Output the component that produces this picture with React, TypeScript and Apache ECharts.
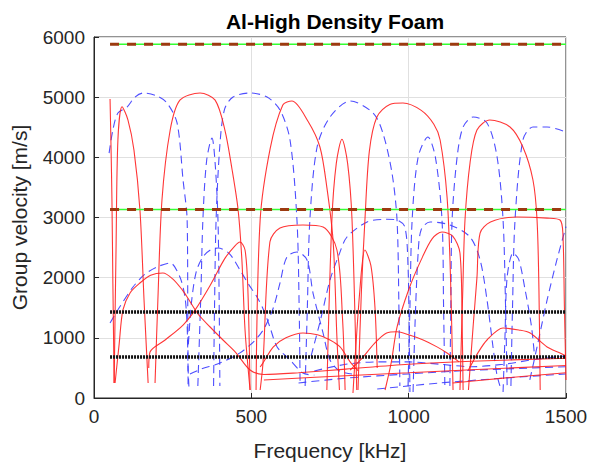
import React, { useEffect, useRef } from "react";
import * as echarts from "echarts";

const title = "Al-High Density Foam";
const xName = "Frequency [kHz]";
const yName = "Group velocity [m/s]";
const xTicks = [0, 500, 1000, 1500];
const yTicks = [0, 1000, 2000, 3000, 4000, 5000, 6000];

// bulk wave speeds (horizontal reference lines)
const bulkGreen = [5880, 3135];
const bulkBlack = [1430, 680];
const bulkRange = [51, 1500];

// Red solid (symmetric) modes: [frequency kHz, group velocity m/s]
const red1 = [[51, 4970], [54, 4200], [57, 3300], [60, 1900], [64, 250]];
const red2 = [[64, 250], [70, 2460], [76, 4290], [89, 4840], [108, 4620], [127, 4120], [146, 3125], [159, 1630], [172, 250]];
const red3 = [[194, 250], [203, 1630], [216, 3290], [242, 4450], [273, 4950], [337, 5069], [385, 4950], [416, 4454], [439, 3789], [458, 3125], [470, 2294], [480, 1130], [496, 133]];
const red4 = [[174, 500], [178, 765], [226, 964], [283, 1213], [321, 1460], [369, 1870], [416, 2320], [448, 2530], [464, 2593], [480, 2460], [489, 1800], [496, 133]];
const red5 = [[67, 250], [80, 900], [92, 1463], [115, 1750], [146, 1911], [180, 2040], [219, 2078], [250, 1980], [280, 1800], [296, 1679], [330, 1400], [369, 1180], [410, 964], [450, 760], [496, 465], [540, 390], [650, 420], [800, 480], [1000, 560], [1200, 610], [1500, 660]];
const red6 = [[515, 133], [528, 2960], [560, 4150], [600, 4870], [629, 4936], [680, 4600], [718, 4172], [740, 3500], [760, 2600], [772, 1000], [780, 133]];
const red7 = [[528, 133], [537, 582], [559, 2593], [591, 2825], [664, 2875], [728, 2842], [772, 2460], [790, 1300], [798, 133]];
const red8 = [[740, 133], [756, 2958], [770, 3900], [788, 4300], [806, 3900], [820, 2958], [835, 133]];
const red9 = [[823, 83], [845, 1800], [861, 2460], [880, 2200], [893, 1500], [900, 500]];
const red10 = [[839, 133], [850, 1800], [861, 2958], [875, 4100], [899, 4670], [940, 4880], [982, 4903], [1040, 4780], [1080, 4550], [1100, 4288], [1122, 3341], [1133, 2000], [1141, 133]];
const red11 = [[1163, 133], [1172, 1800], [1179, 2958], [1195, 3906], [1217, 4454], [1258, 4620], [1322, 4504], [1363, 4172], [1395, 3623], [1408, 2958], [1414, 1800], [1418, 133]];
const red12 = [[925, 133], [945, 600], [963, 1180], [1000, 1800], [1040, 2300], [1075, 2650], [1106, 2759], [1140, 2690], [1163, 2410], [1170, 1200], [1173, 133]];
const red13 = [[1190, 133], [1205, 1200], [1217, 2000], [1227, 2742], [1260, 2925], [1344, 3008], [1440, 2990], [1481, 2958], [1490, 2742], [1495, 1500], [1500, 300]];
const red14 = [[528, 515], [537, 582], [570, 850], [610, 1000], [664, 1080], [710, 1050], [750, 964], [782, 848], [814, 600], [840, 450]];
const red15 = [[814, 465], [850, 650], [890, 900], [930, 1080], [963, 1100], [1000, 1050], [1046, 964], [1090, 850], [1122, 748], [1160, 600]];
const red16 = [[1190, 465], [1220, 750], [1249, 964], [1300, 1163], [1350, 1130], [1386, 1080], [1440, 848], [1481, 748], [1500, 700]];
const red17 = [[540, 300], [800, 370], [1000, 420], [1200, 470], [1500, 540]];
const red18 = [[1140, 250], [1300, 330], [1500, 420]];

// Blue dashed (antisymmetric) modes
const blue1 = [[48, 4070], [60, 4454], [76, 4737], [105, 4836], [130, 5000], [156, 5069], [200, 5020], [232, 4903], [264, 4571], [283, 3623], [296, 2958], [298, 1500], [299, 183]];
const blue2 = [[380, 200], [383, 1500], [388, 2958], [400, 4200], [415, 4800], [442, 5003], [496, 5069], [550, 5003], [591, 4787], [623, 4288], [645, 2958], [652, 1500], [655, 200]];
const blue3 = [[330, 200], [340, 1800], [346, 2958], [358, 3950], [375, 4321], [385, 3900], [394, 2958], [398, 1500], [400, 200]];
const blue4 = [[671, 200], [678, 1500], [686, 2958], [709, 4172], [750, 4670], [814, 4936], [887, 4737], [918, 4404], [947, 3740], [963, 2958], [969, 1500], [972, 200]];
const blue5 = [[998, 200], [1004, 1500], [1011, 2958], [1030, 4000], [1061, 4338], [1085, 4000], [1106, 2958], [1111, 1500], [1115, 200]];
const blue6 = [[1131, 200], [1134, 1500], [1138, 2958], [1154, 4005], [1173, 4504], [1205, 4670], [1249, 4571], [1281, 4005], [1300, 2958], [1308, 1500], [1313, 200]];
const blue7 = [[1325, 200], [1330, 1500], [1338, 2958], [1363, 4288], [1395, 4504], [1440, 4504], [1500, 4420]];
const blue8 = [[51, 1247], [80, 1500], [124, 1845], [160, 2050], [200, 2177], [242, 2244], [273, 2011], [289, 1679], [296, 1200], [299, 500], [302, 150]];
const blue9 = [[300, 900], [310, 1600], [325, 2100], [346, 2343], [370, 2460], [394, 2493], [430, 2400], [464, 2127], [490, 1900], [518, 1679], [540, 1450], [559, 1180], [582, 848], [623, 632], [664, 415], [700, 380]];
const blue10 = [[305, 400], [340, 480], [400, 580], [464, 750], [510, 950], [540, 1150], [570, 1500], [591, 1911], [613, 2343], [645, 2427], [677, 2294], [696, 1745], [728, 1080], [750, 632], [780, 450], [820, 400]];
const blue11 = [[690, 700], [720, 1300], [750, 1961], [780, 2400], [804, 2676], [868, 2925], [930, 2970], [963, 2958], [988, 2842], [998, 2177], [1002, 1000], [1004, 100]];
const blue12 = [[1014, 100], [1020, 1200], [1030, 2400], [1040, 2800], [1068, 2925], [1131, 2875], [1195, 2676], [1227, 2294], [1249, 1629], [1268, 848], [1280, 400], [1290, 200]];
const blue13 = [[1385, 300], [1408, 848], [1440, 1629], [1471, 2294], [1500, 2850]];
const blue14 = [[1300, 100], [1306, 1000], [1313, 2011], [1332, 2410], [1350, 2300], [1370, 1800], [1390, 1200], [1400, 700]];
const blue15 = [[700, 450], [800, 560], [900, 600], [1000, 600], [1100, 560], [1200, 520], [1300, 560], [1400, 640], [1500, 700]];
const blue16 = [[650, 250], [800, 330], [1000, 400], [1200, 460], [1500, 520]];
const blue17 = [[900, 150], [1100, 250], [1300, 330], [1500, 400]];

const redModes = [red1, red2, red3, red4, red5, red6, red7, red8, red9, red10, red11, red12, red13, red14, red15, red16, red17, red18];
const blueModes = [blue1, blue2, blue3, blue4, blue5, blue6, blue7, blue8, blue9, blue10, blue11, blue12, blue13, blue14, blue15, blue16, blue17];

export default function App() {
  const ref = useRef<HTMLDivElement>(null);
  useEffect(() => {
    if (!ref.current) return;
    const chart = echarts.init(ref.current, null, { renderer: "svg" });
    const font = "Liberation Sans, Arial, sans-serif";
    const series: any[] = [];
    redModes.forEach((d) =>
      series.push({
        type: "line", data: d, showSymbol: false, smooth: 0.3, z: 3,
        lineStyle: { color: "#ff2020", width: 1.1, opacity: 0.9 },
      })
    );
    blueModes.forEach((d) =>
      series.push({
        type: "line", data: d, showSymbol: false, smooth: 0.3, z: 2,
        lineStyle: { color: "#3b3bff", width: 1.1, type: [8, 5], opacity: 0.9 },
      })
    );
    bulkGreen.forEach((v) => {
      series.push({
        type: "line", data: bulkRange.map((f) => [f, v]), showSymbol: false, z: 4,
        lineStyle: { color: "#33ff33", width: 1.5 },
      });
      series.push({
        type: "line", data: bulkRange.map((f) => [f, v]), showSymbol: false, z: 5,
        lineStyle: { color: "#9c3a10", width: 3, type: [9, 8] },
      });
    });
    bulkBlack.forEach((v) =>
      series.push({
        type: "line", data: bulkRange.map((f) => [f, v]), showSymbol: false, z: 6,
        lineStyle: { color: "#111111", width: 3.5, type: [2, 1] },
      })
    );
    chart.setOption({
      animation: false,
      title: {
        text: title, left: 330, top: 6, textAlign: "center",
        textStyle: { fontFamily: font, fontSize: 21, fontWeight: "bold", color: "#000" },
      },
      grid: { left: 94, right: 27, top: 37, bottom: 70, show: true, borderColor: "#262626", borderWidth: 1 },
      xAxis: {
        type: "value", min: 0, max: 1500, interval: 500,
        name: xName, nameLocation: "middle", nameGap: 42,
        nameTextStyle: { fontFamily: font, fontSize: 21, color: "#262626" },
        axisLine: { show: true, lineStyle: { color: "#262626" } },
        axisTick: { inside: true, length: 5, lineStyle: { color: "#262626" } },
        axisLabel: { fontFamily: font, fontSize: 19, color: "#262626", margin: 9, formatter: (v: number) => String(v) },
        splitLine: { show: true, lineStyle: { color: "#e0e0e0" } },
      },
      yAxis: {
        type: "value", min: 0, max: 6000, interval: 1000,
        name: yName, nameLocation: "middle", nameGap: 64,
        nameTextStyle: { fontFamily: font, fontSize: 21, color: "#262626" },
        axisLine: { show: true, lineStyle: { color: "#262626" } },
        axisTick: { inside: true, length: 5, lineStyle: { color: "#262626" } },
        axisLabel: { fontFamily: font, fontSize: 19, color: "#262626", margin: 9, formatter: (v: number) => String(v) },
        splitLine: { show: true, lineStyle: { color: "#e0e0e0" } },
      },
      series,
    });
    return () => chart.dispose();
  }, []);
  return (
    <div
      ref={ref}
      style={{ position: "fixed", left: 0, top: 0, width: 593, height: 468, background: "#fff" }}
    />
  );
}
